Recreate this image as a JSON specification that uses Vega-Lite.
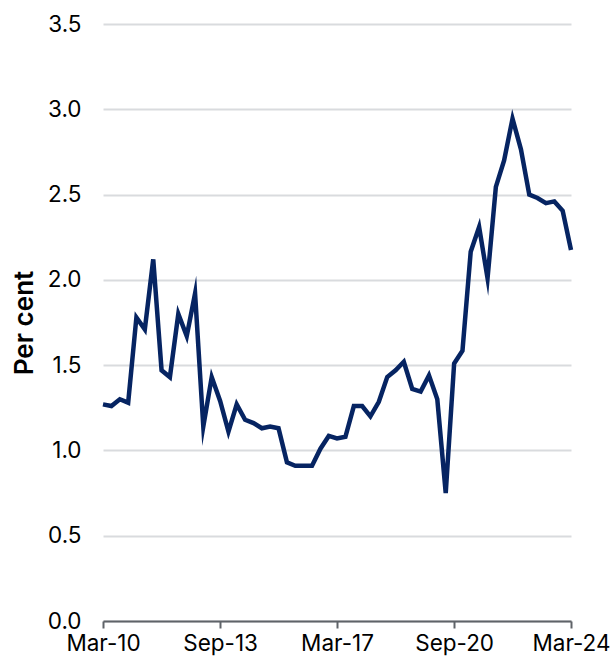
{
  "$schema": "https://vega.github.io/schema/vega-lite/v6.json",
  "width": 468,
  "height": 597,
  "autosize": "none",
  "padding": {"left": 103, "top": 24, "right": 44, "bottom": 41},
  "background": "white",
  "config": {
    "view": {"stroke": null},
    "font": "Inter"
  },
  "data": {
    "values": [
      {"date": "2010-03-01", "value": 1.27},
      {"date": "2010-06-01", "value": 1.26},
      {"date": "2010-09-01", "value": 1.30},
      {"date": "2010-12-01", "value": 1.28},
      {"date": "2011-03-01", "value": 1.78},
      {"date": "2011-06-01", "value": 1.71},
      {"date": "2011-09-01", "value": 2.12},
      {"date": "2011-12-01", "value": 1.47},
      {"date": "2012-03-01", "value": 1.43},
      {"date": "2012-06-01", "value": 1.80},
      {"date": "2012-09-01", "value": 1.67},
      {"date": "2012-12-01", "value": 1.92},
      {"date": "2013-03-01", "value": 1.14},
      {"date": "2013-06-01", "value": 1.43},
      {"date": "2013-09-01", "value": 1.29},
      {"date": "2013-12-01", "value": 1.11},
      {"date": "2014-03-01", "value": 1.27},
      {"date": "2014-06-01", "value": 1.18},
      {"date": "2014-09-01", "value": 1.16},
      {"date": "2014-12-01", "value": 1.13},
      {"date": "2015-03-01", "value": 1.14},
      {"date": "2015-06-01", "value": 1.13},
      {"date": "2015-09-01", "value": 0.93},
      {"date": "2015-12-01", "value": 0.91},
      {"date": "2016-03-01", "value": 0.91},
      {"date": "2016-06-01", "value": 0.91},
      {"date": "2016-09-01", "value": 1.01},
      {"date": "2016-12-01", "value": 1.085},
      {"date": "2017-03-01", "value": 1.07},
      {"date": "2017-06-01", "value": 1.08},
      {"date": "2017-09-01", "value": 1.26},
      {"date": "2017-12-01", "value": 1.26},
      {"date": "2018-03-01", "value": 1.20},
      {"date": "2018-06-01", "value": 1.285},
      {"date": "2018-09-01", "value": 1.43},
      {"date": "2018-12-01", "value": 1.47},
      {"date": "2019-03-01", "value": 1.52},
      {"date": "2019-06-01", "value": 1.36},
      {"date": "2019-09-01", "value": 1.345},
      {"date": "2019-12-01", "value": 1.44},
      {"date": "2020-03-01", "value": 1.30},
      {"date": "2020-06-01", "value": 0.75},
      {"date": "2020-09-01", "value": 1.51},
      {"date": "2020-12-01", "value": 1.585},
      {"date": "2021-03-01", "value": 2.165},
      {"date": "2021-06-01", "value": 2.31},
      {"date": "2021-09-01", "value": 2.01},
      {"date": "2021-12-01", "value": 2.545},
      {"date": "2022-03-01", "value": 2.70},
      {"date": "2022-06-01", "value": 2.945},
      {"date": "2022-09-01", "value": 2.765},
      {"date": "2022-12-01", "value": 2.50},
      {"date": "2023-03-01", "value": 2.48},
      {"date": "2023-06-01", "value": 2.45},
      {"date": "2023-09-01", "value": 2.46},
      {"date": "2023-12-01", "value": 2.405},
      {"date": "2024-03-01", "value": 2.175}
    ]
  },
  "mark": {"type": "line", "color": "#062462", "strokeWidth": 4.5, "strokeJoin": "miter", "strokeMiterLimit": 10},
  "encoding": {
    "x": {
      "field": "date",
      "type": "temporal",
      "scale": {"type": "utc", "domain": ["2010-03-01", "2024-03-01"]},
      "axis": {
        "title": null,
        "values": ["2010-03-01", "2013-09-01", "2017-03-01", "2020-09-01", "2024-03-01"],
        "labelExpr": "['Jan','Feb','Mar','Apr','May','Jun','Jul','Aug','Sep','Oct','Nov','Dec'][utcmonth(datum.value)] + '-' + slice(toString(utcyear(datum.value)), 2)",
        "grid": false,
        "domainColor": "#5f6368",
        "domainWidth": 2,
        "tickColor": "#5f6368",
        "tickWidth": 2,
        "tickSize": 7,
        "labelFontSize": 22.5,
        "labelColor": "#000000",
        "labelPadding": 4,
        "labelFlush": false,
        "labelOverlap": false
      }
    },
    "y": {
      "field": "value",
      "type": "quantitative",
      "scale": {"domain": [0, 3.5], "nice": false, "zero": true},
      "axis": {
        "title": "Per cent",
        "titleFontSize": 26,
        "titleFontWeight": 600,
        "titleColor": "#000000",
        "titlePadding": 10,
        "values": [0, 0.5, 1, 1.5, 2, 2.5, 3, 3.5],
        "format": ".1f",
        "domain": false,
        "ticks": false,
        "grid": true,
        "gridColor": "#d9dbde",
        "gridWidth": 2,
        "labelFontSize": 22.5,
        "labelColor": "#000000",
        "labelPadding": 22
      }
    }
  }
}
